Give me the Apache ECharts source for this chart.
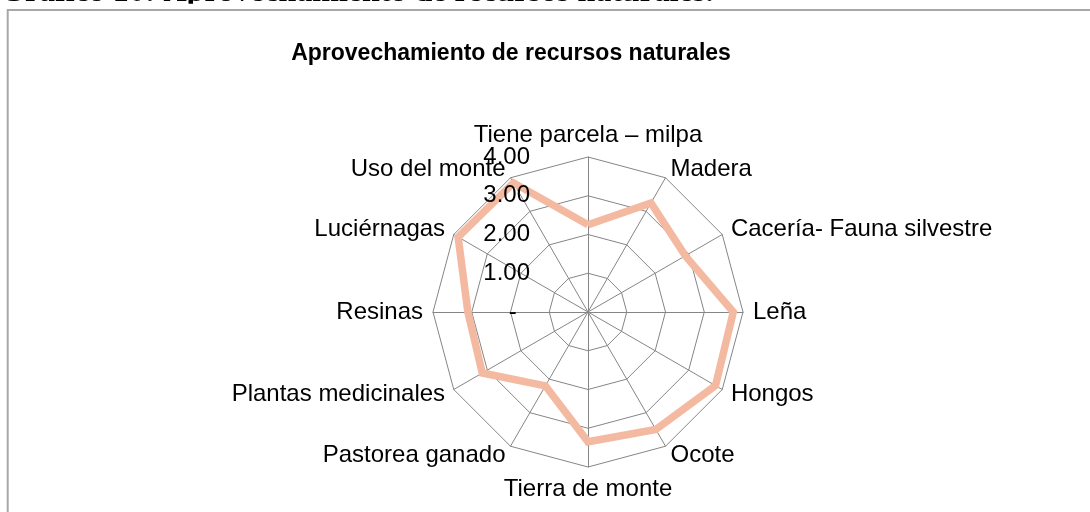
<!DOCTYPE html>
<html>
<head>
<meta charset="utf-8">
<style>
  html, body { margin: 0; padding: 0; background: #fff; }
  #chart { width: 1090px; height: 512px; }
</style>
<script src="https://cdn.jsdelivr.net/npm/echarts@6/dist/echarts.min.js"></script>
</head>
<body>
<div id="chart"></div>
<script>
// recursos, en el orden de las agujas del reloj desde arriba
var categorias = ['Tiene parcela – milpa', 'Madera', 'Cacería- Fauna silvestre', 'Leña', 'Hongos', 'Ocote',
  'Tierra de monte', 'Pastorea ganado', 'Plantas medicinales', 'Resinas', 'Luciérnagas', 'Uso del monte'];
var valores = [2.25, 3.25, 2.9, 3.75, 3.8, 3.5, 3.35, 2.2, 3.15, 3.1, 3.87, 3.85];
var maxValor = 4;
var pasos = 4;

// echarts reparte los ejes en sentido antihorario, así que se invierte el orden tras el primero
var orden = [0].concat(categorias.slice(1).map(function (c, i) { return categorias.length - 1 - i; }));
var indicadores = orden.map(function (i) { return { name: categorias[i], max: maxValor, min: 0 }; });
var datos = orden.map(function (i) { return valores[i]; });

var gris = '#858585';
var fuente = 'Liberation Sans, Arial, sans-serif';

var chart = echarts.init(document.getElementById('chart'));
var option = {
  animation: false,
  title: {
    text: 'Aprovechamiento de recursos naturales',
    left: 506,
    top: 37,
    textAlign: 'center',
    textStyle: { fontFamily: fuente, fontSize: 23, fontWeight: 'bold', color: '#000' }
  },
  graphic: [
    {
      type: 'text', left: 0, z: 1,
      style: {
        text: 'Gráfico 10: Aprovechamiento de recursos naturales.',
        x: 0, y: -7.5,
        verticalAlign: 'middle',
        font: 'bold 32px "Liberation Serif", "Times New Roman", serif',
        fill: '#000'
      }
    },
    {
      type: 'rect', z: 2, silent: true,
      shape: { x: 0, y: 3.8, width: 1090, height: 5.5 },
      style: { fill: '#fff' }
    },
    {
      type: 'rect', z: 3, silent: true,
      shape: { x: 7.7, y: 10.1, width: 1200, height: 600 },
      style: { fill: 'none', stroke: '#a8a8a8', lineWidth: 2 }
    }
  ],
  radar: [
    {
      center: [588, 312],
      radius: 155,
      shape: 'polygon',
      splitNumber: pasos,
      nameGap: 10,
      axisName: { color: '#000', fontFamily: fuente, fontSize: 24 },
      splitArea: { show: false },
      splitLine: { lineStyle: { color: gris, width: 1 } },
      axisLine: { lineStyle: { color: gris, width: 1 } },
      axisTick: { show: false },
      axisLabel: { show: false },
      indicator: indicadores
    },
    {
      // solo para las etiquetas de valores, encima de la serie
      center: [588, 312],
      radius: 155,
      shape: 'polygon',
      splitNumber: pasos,
      z: 10,
      axisName: { show: false },
      splitArea: { show: false },
      splitLine: { show: false },
      axisLine: { show: false },
      axisTick: { show: false },
      axisLabel: { show: false },
      indicator: indicadores.map(function (ind, i) {
        var o = { name: ind.name, max: ind.max, min: 0 };
        if (i === 0) {
          o.axisLabel = {
            show: true,
            margin: 58,
            color: '#000',
            fontFamily: fuente,
            fontSize: 24,
            formatter: function (v) { return v === 0 ? '-  ' : v.toFixed(2); }
          };
        }
        return o;
      })
    }
  ],
  series: [
    {
      type: 'radar',
      radarIndex: 0,
      symbol: 'none',
      lineStyle: { color: '#f4b9a1', width: 7.5, join: 'miter' },
      data: [{ value: datos, name: 'Aprovechamiento' }]
    }
  ]
};
chart.setOption(option);
</script>
</body>
</html>
